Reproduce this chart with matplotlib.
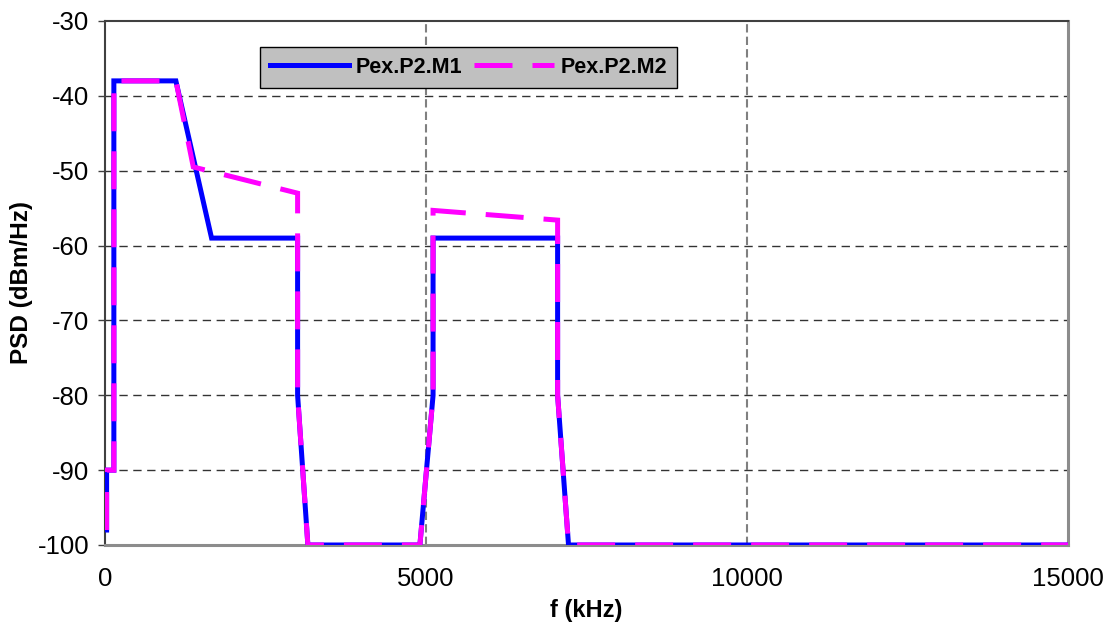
import matplotlib
matplotlib.use('Agg')
import matplotlib.pyplot as plt

plt.rcParams['font.family'] = ['Liberation Sans', 'DejaVu Sans']

# PSD masks, frequency in kHz, level in dBm/Hz
f_m1 = [25, 25, 138, 138, 1104, 1660, 3000, 3000, 3160, 4905, 5110, 5110, 7050, 7050, 7220, 15000]
psd_m1 = [-98, -90, -90, -38, -38, -59, -59, -80, -100, -100, -80, -59, -59, -80, -100, -100]

f_m2 = [25, 25, 138, 138, 1104, 1375, 3000, 3000, 3160, 4905, 5110, 5110, 7050, 7050, 7220, 15000]
psd_m2 = [-98, -90, -90, -38, -38, -49.5, -53, -80, -100, -100, -80, -55.3, -56.6, -80, -100, -100]

labels = ['Pex.P2.M1', 'Pex.P2.M2']
x_ticks = [0, 5000, 10000, 15000]
y_ticks = [-100, -90, -80, -70, -60, -50, -40, -30]

fig = plt.figure(figsize=(11.12, 6.25), dpi=100)
ax = fig.add_axes([105 / 1112, 80 / 625, 963 / 1112, 524 / 625])

# grid: dark dashed rows, grey dashed columns
for y in y_ticks[1:-1]:
    ax.axhline(y, color='#333333', lw=1.0, ls=(0, (6, 4)), zorder=1)
for x in x_ticks[1:-1]:
    ax.axvline(x, color='#808080', lw=1.5, ls=(0, (4, 2)), zorder=1)

ax.plot(f_m1, psd_m1, color='#0000ff', lw=3.6, label=labels[0], zorder=3,
        solid_joinstyle='miter')
ax.plot(f_m2, psd_m2, color='#ff00ff', lw=3.6, ls=(0, (7.6, 4)), label=labels[1],
        zorder=4, dash_joinstyle='miter')

ax.set_xlim(0, 15000)
ax.set_ylim(-100, -30)
ax.set_xticks(x_ticks)
ax.set_yticks(y_ticks)
ax.set_xticklabels([str(v) for v in x_ticks], fontsize=18.5)
ax.set_yticklabels([str(v) for v in y_ticks], fontsize=18.5)
ax.tick_params(axis='x', length=0, pad=16)
ax.tick_params(axis='y', direction='out', length=5, width=1, color='#404040', pad=6.5)

for side in ['top', 'left']:
    ax.spines[side].set_color('#404040')
    ax.spines[side].set_linewidth(1.5)
for side in ['bottom', 'right']:
    ax.spines[side].set_color('#8c8c8c')
    ax.spines[side].set_linewidth(2.2)

fig.text(586 / 1112, 1 - 611 / 625, 'f (kHz)', fontsize=17, fontweight='bold',
         ha='center', va='center')
fig.text(21.5 / 1112, 1 - 283 / 625, 'PSD (dBm/Hz)', fontsize=17.5, fontweight='bold',
         rotation=90, ha='center', va='center')

leg = ax.legend(loc='upper left', bbox_to_anchor=(0.161, 0.950), borderaxespad=0,
                ncol=2, fancybox=False, framealpha=1, facecolor='#c0c0c0',
                edgecolor='black', borderpad=0.45, handlelength=3.7,
                handletextpad=0.3, columnspacing=0.55,
                prop={'family': 'Liberation Sans', 'weight': 'bold', 'size': 15.5})
leg.get_frame().set_linewidth(1.0)

fig.savefig('out.png', dpi=100)
